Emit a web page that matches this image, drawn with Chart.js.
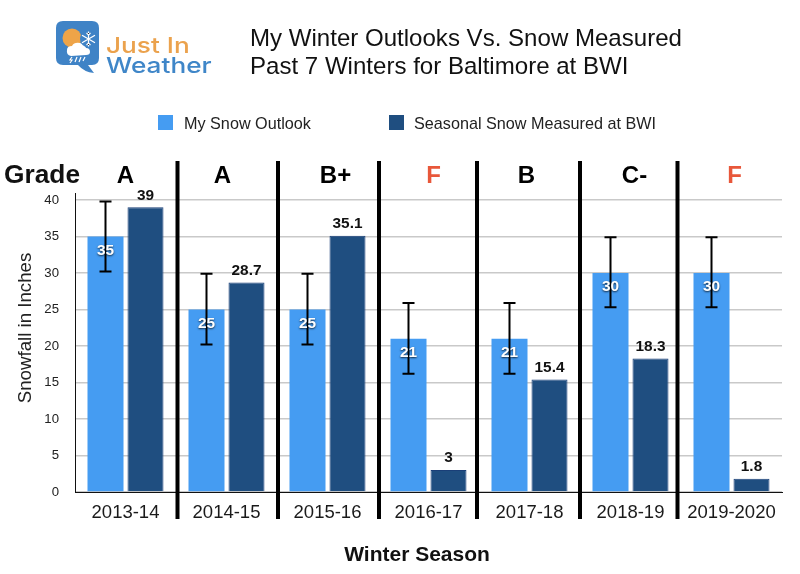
<!DOCTYPE html>
<html>
<head>
<meta charset="utf-8">
<title>My Winter Outlooks Vs. Snow Measured</title>
<script src="https://cdn.jsdelivr.net/npm/chart.js@4"></script>
<style>
  html, body { margin: 0; background: #fff; }
  #wrap { position: relative; width: 800px; height: 574px; overflow: hidden; font-family: "Liberation Sans", Arial, sans-serif; color: #111; }
  #chart { position: absolute; left: 0; top: 0; }
  .title { position: absolute; left: 250px; font-size: 24.07px; line-height: 28px; white-space: nowrap; }
  .brand { position: absolute; left: 106px; font-family: Inter, sans-serif; font-weight: 500; font-size: 22px; line-height: 26px; white-space: nowrap; transform: scaleX(1.19); transform-origin: left center; }
  .swatch { position: absolute; top: 115px; width: 15px; height: 15px; }
  .legend { position: absolute; top: 113px; font-size: 16.2px; line-height: 20px; white-space: nowrap; color: #222; }
  svg { position: absolute; left: 50px; top: 15px; }
</style>
</head>
<body>
<div id="wrap">
  <canvas id="chart" width="800" height="574"></canvas>

  <svg width="60" height="64" viewBox="50 15 60 64">
    <path d="M63 21 H92 Q99 21 99 28 V58 Q99 65 92 65 H88 L94 73 Q84 72 78 65 H63 Q56 65 56 58 V28 Q56 21 63 21 Z" fill="#3f83c6"/>
    <circle cx="72" cy="38" r="9.5" fill="#eea448"/>
    <path d="M71 56 Q66 55 67 50 Q67 46 72 46 Q74 42 80 43 Q85 44 86 48 Q90 48 90 52 Q90 55 86 55 Z" fill="#fff"/>
    <circle cx="88.500" cy="39" r="8.500" fill="#3f83c6"/>
    <g stroke="#fff" stroke-width="1.200">
      <path d="M88.500 31.500 V46.500 M82 35.200 L95 42.800 M82 42.800 L95 35.200"/>
      <path d="M86.500 33 L88.500 35 L90.500 33 M86.500 45 L88.500 43 L90.500 45"/>
    </g>
    <g stroke="#fff" stroke-width="1.200">
      <path d="M72 57 L70 60 H72 L70 63 M77 57 L75 62 M81 57 L79 62 M85 57 L83 61"/>
    </g>
  </svg>
  <div class="brand" style="top:32px;color:#eba24d">Just In</div>
  <div class="brand" style="top:52px;color:#3f86c8">Weather</div>

  <div class="title" style="top:24px">My Winter Outlooks Vs. Snow Measured</div>
  <div class="title" style="top:52px">Past 7 Winters for Baltimore at BWI</div>

  <div class="swatch" style="left:158px;background:#459cf2"></div>
  <div class="legend" style="left:184px" id="legend-a"></div>
  <div class="swatch" style="left:389px;background:#1f4e80"></div>
  <div class="legend" style="left:414px" id="legend-b"></div>
</div>

<script>
const seasons = ['2013-14', '2014-15', '2015-16', '2016-17', '2017-18', '2018-19', '2019-2020'];
const outlook = [35, 25, 25, 21, 21, 30, 30];
const measured = [39, 28.7, 35.1, 3, 15.4, 18.3, 1.8];
const errorHigh = [39.8, 29.9, 29.9, 25.9, 25.9, 34.9, 34.9];
const errorLow = [30.2, 20.2, 20.2, 16.2, 16.2, 25.3, 25.3];
const grades = ['A', 'A', 'B+', 'F', 'B', 'C-', 'F'];
const yTicks = [0, 5, 10, 15, 20, 25, 30, 35, 40];
const outlookName = 'My Snow Outlook';
const measuredName = 'Seasonal Snow Measured at BWI';

document.getElementById('legend-a').textContent = outlookName;
document.getElementById('legend-b').textContent = measuredName;

// grade letters are not quite centred over their season in the original
const gradeShift = [0, -4, 8, 5, -3, 4, 3];
const dividerX = [177.5, 278, 379, 477, 580, 677.5];

const overlays = {
    id: 'overlays',
    afterDatasetsDraw(chart) {
        const c = chart.ctx;
        const y = chart.scales.y;
        const x = chart.scales.x;
        const bars = chart.getDatasetMeta(0).data;
        const darkBars = chart.getDatasetMeta(1).data;
        c.save();

        // axis line runs a little above the 40 tick
        c.strokeStyle = '#111';
        c.lineWidth = 1;
        c.beginPath();
        c.moveTo(chart.chartArea.left + 0.5, y.getPixelForValue(40) - 7);
        c.lineTo(chart.chartArea.left + 0.5, y.getPixelForValue(40));
        c.stroke();

        // error bars
        c.strokeStyle = '#000';
        c.lineWidth = 2;
        bars.forEach((bar, i) => {
            const hi = y.getPixelForValue(errorHigh[i]);
            const lo = y.getPixelForValue(errorLow[i]);
            c.beginPath();
            c.moveTo(bar.x, hi); c.lineTo(bar.x, lo);
            c.moveTo(bar.x - 6, hi); c.lineTo(bar.x + 6, hi);
            c.moveTo(bar.x - 6, lo); c.lineTo(bar.x + 6, lo);
            c.stroke();
        });

        // value labels
        c.textAlign = 'center';
        c.textBaseline = 'middle';
        c.font = 'bold 15.4px "Liberation Sans"';
        c.fillStyle = '#111';
        darkBars.forEach((bar, i) => c.fillText(String(measured[i]), bar.x, bar.y - 12));
        c.fillStyle = '#fff';
        c.shadowColor = 'rgba(0,0,0,0.75)';
        c.shadowBlur = 2;
        c.shadowOffsetY = 1;
        bars.forEach((bar, i) => c.fillText(String(outlook[i]), bar.x, bar.y + 14));
        c.shadowColor = 'transparent';
        c.shadowBlur = 0;
        c.shadowOffsetY = 0;

        // season dividers
        c.fillStyle = '#000';
        dividerX.forEach(d => c.fillRect(d - 2, 161, 4, 358));

        // grades
        c.font = 'bold 24px "Liberation Sans"';
        grades.forEach((g, i) => {
            c.fillStyle = g === 'F' ? '#e8573a' : '#000';
            c.fillText(g, x.getPixelForValue(i) + gradeShift[i], 176);
        });
        c.font = 'bold 26.3px "Liberation Sans"';
        c.fillStyle = '#111';
        c.textAlign = 'left';
        c.fillText('Grade', 4, 176);

        // axis titles
        c.textAlign = 'center';
        c.font = 'bold 21px "Liberation Sans"';
        c.fillText('Winter Season', 417, 555);
        c.font = '18.7px "Liberation Sans"';
        c.fillStyle = '#222';
        c.translate(26, 328);
        c.rotate(-Math.PI / 2);
        c.fillText('Snowfall in Inches', 0, 0);
        c.restore();
    }
};

new Chart(document.getElementById('chart'), {
    type: 'bar',
    data: {
        labels: seasons,
        datasets: [
            { label: outlookName, data: outlook, backgroundColor: '#459cf2', categoryPercentage: 0.792, barPercentage: 0.9 },
            { label: measuredName, data: measured, backgroundColor: '#1f4e80', borderColor: '#1a3f78', borderWidth: 1, categoryPercentage: 0.792, barPercentage: 0.9 }
        ]
    },
    options: {
        responsive: false,
        animation: false,
        layout: { padding: { top: 200, right: 18, bottom: 0, left: 0 } },
        plugins: { legend: { display: false }, tooltip: { enabled: false } },
        scales: {
            x: {
                afterFit(scale) { scale.height = 82; },
                grid: { display: false },
                border: { color: '#111', width: 1 },
                ticks: { color: '#1a1a1a', padding: 2, maxRotation: 0, autoSkip: false, font: { family: 'Liberation Sans', size: 18.5 } }
            },
            y: {
                min: 0,
                max: 40,
                afterFit(scale) { scale.width = 75; },
                afterBuildTicks(scale) { scale.ticks = yTicks.map(v => ({ value: v })); },
                grid: { color: '#c9c9c9', lineWidth: 1.5, drawTicks: false },
                border: { color: '#111', width: 1 },
                ticks: { color: '#222', padding: 16, font: { family: 'Liberation Sans', size: 13.2 } }
            }
        }
    },
    plugins: [overlays]
});
</script>
</body>
</html>
